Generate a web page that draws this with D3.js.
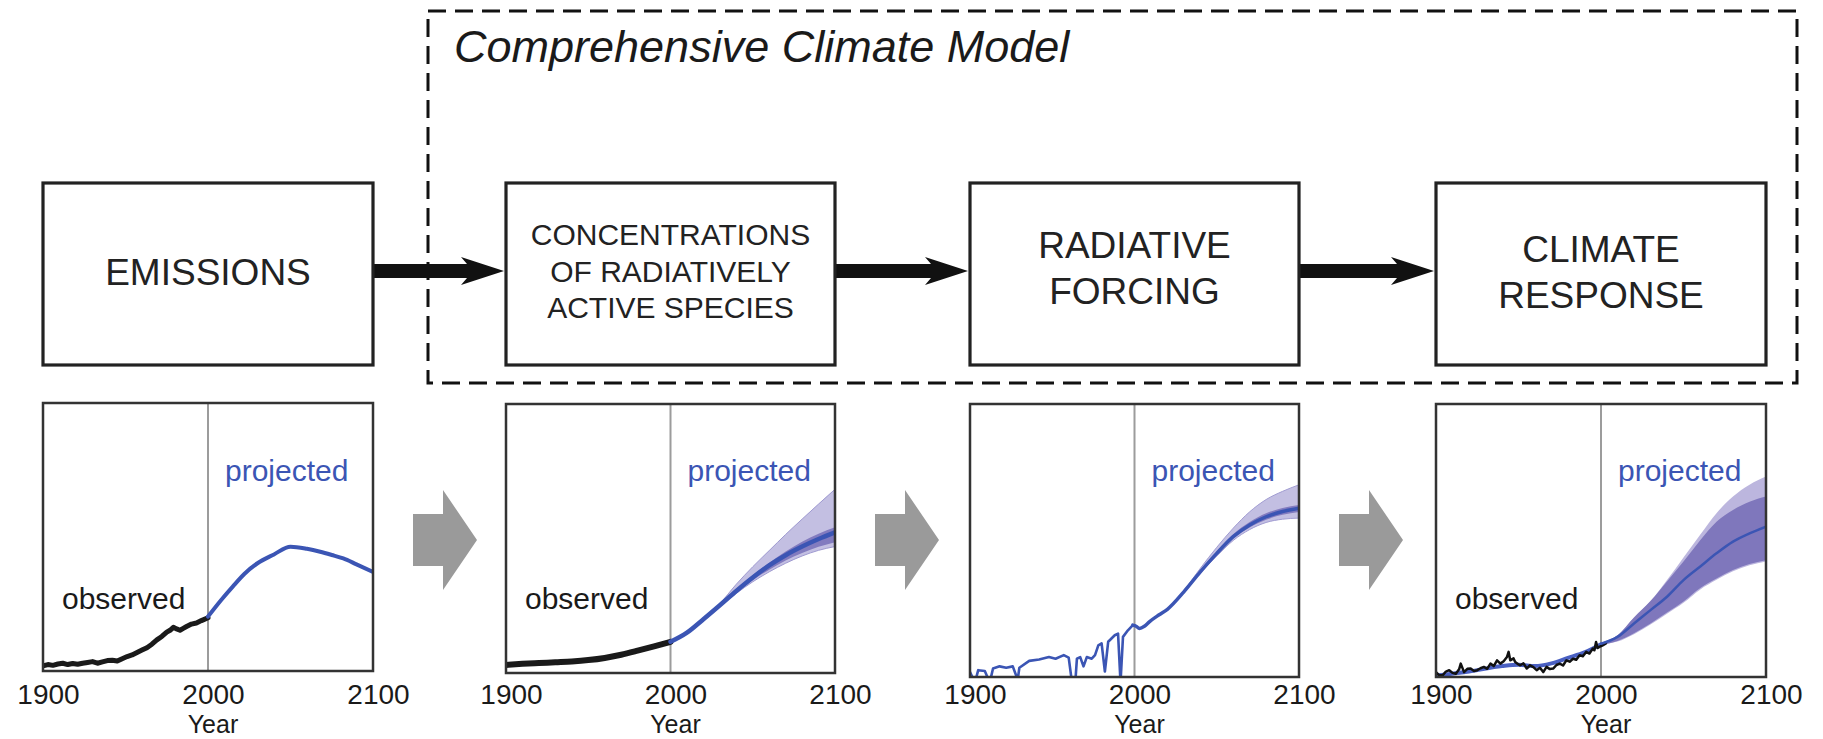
<!DOCTYPE html>
<html>
<head>
<meta charset="utf-8">
<script src="https://cdn.jsdelivr.net/npm/d3@7"></script>
<style>
html,body{margin:0;padding:0;background:#fff;}
svg{display:block;}
</style>
</head>
<body>
<svg id="chart" width="1823" height="739"></svg>
<script>
// ---------------- DATA ----------------
const modelTitle = "Comprehensive Climate Model";
const stageLabels = [
  ["EMISSIONS"],
  ["CONCENTRATIONS", "OF RADIATIVELY", "ACTIVE SPECIES"],
  ["RADIATIVE", "FORCING"],
  ["CLIMATE", "RESPONSE"]
];
const tickYears = [1900, 2000, 2100];
const axisTitle = "Year";
const obsLabel = "observed";
const projLabel = "projected";
// which panels carry the "observed" label
const hasObsLabel = [true, true, false, true];

// Panel 1 : emissions (relative units 0-100)
const emisObserved = [[1900,1.9],[1903,2.4],[1906,2.1],[1909,2.6],[1912,2.9],[1915,2.4],[1918,2.8],[1921,2.5],[1924,2.9],[1927,3.2],[1930,3.5],[1933,2.9],[1936,3.4],[1939,3.9],[1942,4.0],[1945,3.7],[1948,4.6],[1951,5.4],[1954,6.0],[1957,6.9],[1960,7.8],[1963,8.7],[1966,10.0],[1969,11.6],[1972,12.9],[1975,14.5],[1977,15.2],[1979,16.3],[1981,15.7],[1983,15.2],[1985,15.9],[1987,16.6],[1990,17.5],[1993,17.9],[1996,18.8],[2000,19.9]];
const emisProjected = [[2000,20.3],[2008,26.5],[2015,31.5],[2022,36.2],[2030,40.2],[2040,43.5],[2050,46.4],[2060,45.6],[2068,44.5],[2075,43.3],[2082,42.0],[2090,39.8],[2100,37.0]];

// Panel 2 : concentrations
const concObserved = [[1900,3.0],[1910,3.4],[1920,3.7],[1930,4.0],[1940,4.3],[1950,4.8],[1960,5.6],[1970,6.8],[1980,8.3],[1990,9.9],[2000,11.6]];
const concYears   = [2000, 2010, 2020, 2030, 2040, 2050, 2060, 2070, 2080, 2090, 2100];
const concMid     = [11.6, 15.0, 20.0, 25.2, 30.5, 35.5, 40.0, 43.8, 47.0, 49.8, 52.3];
const concDarkLo  = [11.6, 15.0, 20.0, 25.0, 30.0, 34.5, 38.4, 41.8, 44.6, 46.9, 48.6];
const concDarkHi  = [11.6, 15.0, 20.0, 25.4, 31.0, 36.3, 41.0, 45.2, 48.8, 51.8, 54.2];
const concLightLo = [11.6, 15.0, 20.0, 24.8, 29.6, 33.9, 37.6, 40.8, 43.5, 45.6, 47.0];
const concLightHi = [11.6, 15.0, 20.0, 25.8, 33.0, 39.5, 45.5, 51.5, 57.2, 62.8, 68.3];

// Panel 3 : radiative forcing (volcanic dips fall below the axis)
const forcHistorical = [[1900,1.8],[1903,-2],[1905,2.5],[1909,2.2],[1912,-2],[1914,3.1],[1918,3.9],[1922,3.4],[1926,3.9],[1929,-1],[1930,3.4],[1936,5.9],[1942,6.4],[1948,7.3],[1952,6.7],[1957,8.0],[1960,7.1],[1962,-2],[1964,-2],[1965,6.7],[1967,7.3],[1969,3.9],[1971,7.3],[1974,6.7],[1976,8.0],[1978,11.6],[1980,12.3],[1982,2.0],[1984,12.9],[1988,15.3],[1990,15.9],[1991.5,-2],[1993,14.7],[1996,17.1],[1999,19.0]];
const forcProjected = [[1999,19.0],[2001,18.6],[2003,17.8],[2006,18.6],[2009,20.2],[2015,22.8],[2020,24.8],[2030,31.2],[2040,38.5],[2050,45.3],[2060,51.4],[2070,55.7],[2080,58.7],[2090,60.6],[2100,61.8]];
const forcYears   = [2020, 2030, 2040, 2050, 2060, 2070, 2080, 2090, 2100];
const forcDarkLo  = [24.8, 31.0, 38.2, 44.8, 50.7, 54.8, 57.6, 59.4, 60.4];
const forcDarkHi  = [24.8, 31.4, 38.9, 45.9, 52.3, 56.8, 60.0, 61.9, 63.0];
const forcLightLo = [24.8, 31.0, 38.0, 44.3, 50.0, 54.0, 56.6, 57.8, 58.2];
const forcLightHi = [24.8, 31.6, 39.8, 47.5, 54.5, 60.5, 65.0, 68.0, 70.4];

// Panel 4 : climate response (temperature)
const tempObserved = [[1900,1.8],[1902,0.6],[1904,0.6],[1906,2.0],[1908,2.5],[1910,1.5],[1912,1.2],[1914,2.8],[1915,4.9],[1917,1.8],[1919,3.0],[1921,3.1],[1923,2.2],[1925,2.5],[1927,3.2],[1929,3.7],[1931,3.0],[1933,4.9],[1935,4.0],[1937,6.1],[1939,4.9],[1941,5.8],[1943,7.3],[1944,9.2],[1945,6.1],[1947,6.8],[1948,5.5],[1950,4.6],[1951,4.3],[1953,5.0],[1955,3.1],[1957,4.3],[1959,3.6],[1961,2.5],[1963,3.4],[1965,1.8],[1967,3.7],[1969,2.9],[1971,3.1],[1973,4.4],[1975,4.9],[1977,4.2],[1979,6.1],[1981,5.6],[1983,6.7],[1985,6.3],[1987,8.0],[1989,7.6],[1991,9.2],[1993,8.6],[1995,10.4],[1996,9.8],[1997,12.8],[1998,10.6],[1999,11.0],[2001,11.6],[2003,12.3]];
const tempModelHist = [[1900,0.5],[1920,2.0],[1940,4.0],[1950,4.5],[1960,4.0],[1970,5.0],[1980,7.0],[1990,9.0],[2000,12.0]];
const tempYears   = [2000, 2010, 2020, 2030, 2040, 2050, 2060, 2070, 2080, 2090, 2100];
const tempMid     = [12.2, 14.7, 19.6, 24.5, 29.4, 35.5, 40.4, 45.3, 49.6, 52.6, 55.1];
const tempDarkLo  = [11.9, 13.2, 16.0, 19.6, 23.6, 27.7, 32.5, 36.1, 39.2, 41.4, 42.8];
const tempDarkHi  = [12.5, 15.3, 21.8, 27.8, 35.0, 42.3, 50.0, 56.9, 61.2, 64.2, 66.1];
const tempLightLo = [11.9, 13.0, 15.7, 19.2, 23.2, 27.2, 32.0, 35.6, 38.7, 40.9, 42.3];
const tempLightHi = [12.5, 15.3, 21.8, 27.8, 35.5, 43.8, 52.0, 60.0, 66.1, 70.4, 73.4];

// ---------------- LAYOUT / STYLE ----------------
const FONT = "'Liberation Sans', Arial, Helvetica, sans-serif";
const BLUE = "#3b55b4";
const LIGHT = "#c3bfe2";
const DARK = "#827bbf";
const panels = [
  {x0: 43,   x1: 373,  y0: 403, y1: 671},
  {x0: 506,  x1: 835,  y0: 404, y1: 673},
  {x0: 970,  x1: 1299, y0: 404, y1: 677},
  {x0: 1436, x1: 1766, y0: 404, y1: 677}
];
const boxTop = 183, boxBottom = 365;
const stageFont = [37, 30, 37, 37];
const stageBaselines = [[285], [245, 282, 318], [258, 304], [262, 308]];
const tickFont = 28, tickBaseline = 704, titleBaseline = 733;

const svg = d3.select("#chart");
const defs = svg.append("defs");

// dashed "comprehensive climate model" frame
svg.append("rect")
  .attr("x", 428).attr("y", 11).attr("width", 1797 - 428).attr("height", 383 - 11)
  .attr("fill", "none").attr("stroke", "#111").attr("stroke-width", 3)
  .attr("stroke-dasharray", "18,9");
svg.append("text")
  .attr("x", 454).attr("y", 62)
  .attr("font-family", FONT).attr("font-style", "italic").attr("font-size", 45)
  .attr("fill", "#1a1a1a").text(modelTitle);

// black arrows between stage boxes
for (let i = 0; i < 3; i++) {
  const xs = panels[i].x1, tip = panels[i + 1].x0 - 2, xh = tip - 43, yc = 271;
  const pts = [[xs, yc - 7], [xh + 6, yc - 7], [xh, yc - 14], [tip, yc], [xh, yc + 14], [xh + 6, yc + 7], [xs, yc + 7]];
  svg.append("path").attr("d", d3.line()(pts) + "Z").attr("fill", "#111");
}

// stage boxes
stageLabels.forEach((lines, i) => {
  const p = panels[i];
  svg.append("rect")
    .attr("x", p.x0).attr("y", boxTop).attr("width", p.x1 - p.x0).attr("height", boxBottom - boxTop)
    .attr("fill", "#fff").attr("stroke", "#222").attr("stroke-width", 3.2);
  lines.forEach((t, j) => {
    svg.append("text")
      .attr("x", (p.x0 + p.x1) / 2).attr("y", stageBaselines[i][j])
      .attr("text-anchor", "middle").attr("font-family", FONT)
      .attr("font-size", stageFont[i]).attr("fill", "#222").text(t);
  });
});

// gray block arrows between panels
for (let i = 0; i < 3; i++) {
  const x0 = panels[i].x1 + 40, yc = 540;
  const pts = [[x0, yc - 26], [x0 + 30, yc - 26], [x0 + 30, yc - 50], [x0 + 64, yc], [x0 + 30, yc + 50], [x0 + 30, yc + 26], [x0, yc + 26]];
  svg.append("path").attr("d", d3.line()(pts) + "Z").attr("fill", "#9a9a9a");
}

// ---------------- PANELS ----------------
function makePanel(i) {
  const p = panels[i];
  const x = d3.scaleLinear().domain([1900, 2100]).range([p.x0, p.x1]);
  const y = d3.scaleLinear().domain([0, 100]).range([p.y1, p.y0]);
  const clipId = "clip" + i;
  defs.append("clipPath").attr("id", clipId).append("rect")
    .attr("x", p.x0).attr("y", p.y0).attr("width", p.x1 - p.x0).attr("height", p.y1 - p.y0);
  const g = svg.append("g");
  g.append("rect").attr("x", p.x0).attr("y", p.y0).attr("width", p.x1 - p.x0).attr("height", p.y1 - p.y0).attr("fill", "#fff");
  g.append("line").attr("x1", x(2000)).attr("x2", x(2000)).attr("y1", p.y0).attr("y2", p.y1)
    .attr("stroke", "#9c9c9c").attr("stroke-width", 2);
  const plot = g.append("g").attr("clip-path", `url(#${clipId})`);
  return {p, x, y, g, plot};
}

function drawLine(P, data, color, width, curve) {
  P.plot.append("path")
    .attr("d", d3.line().x(d => P.x(d[0])).y(d => P.y(d[1])).curve(curve || d3.curveLinear)(data))
    .attr("fill", "none").attr("stroke", color).attr("stroke-width", width)
    .attr("stroke-linejoin", "round").attr("stroke-linecap", "round");
}
function drawBand(P, years, lo, hi, fill, edge) {
  const data = years.map((yr, k) => [yr, lo[k], hi[k]]);
  P.plot.append("path")
    .attr("d", d3.area().x(d => P.x(d[0])).y0(d => P.y(d[1])).y1(d => P.y(d[2])).curve(d3.curveMonotoneX)(data))
    .attr("fill", fill).attr("stroke", edge || "none").attr("stroke-width", 1);
}
function zip(years, vals) { return years.map((yr, k) => [yr, vals[k]]); }

function finishPanel(P, i) {
  const p = P.p;
  P.g.append("rect").attr("x", p.x0).attr("y", p.y0).attr("width", p.x1 - p.x0).attr("height", p.y1 - p.y0)
    .attr("fill", "none").attr("stroke", "#333").attr("stroke-width", 2.5);
  const pad = tickBaseline - p.y1 - 0.71 * tickFont;
  const ax = P.g.append("g").attr("transform", `translate(0,${p.y1})`)
    .call(d3.axisBottom(P.x).tickValues(tickYears).tickFormat(d3.format("d")).tickSize(0).tickPadding(pad));
  ax.select(".domain").remove();
  ax.selectAll("text").attr("font-family", FONT).attr("font-size", tickFont).attr("fill", "#1a1a1a").attr("dx", 5);
  P.g.append("text").attr("x", P.x(2000) + 5).attr("y", titleBaseline).attr("text-anchor", "middle")
    .attr("font-family", FONT).attr("font-size", 25).attr("fill", "#1a1a1a").text(axisTitle);
  P.g.append("text").attr("x", P.x(2000) + 17).attr("y", 481)
    .attr("font-family", FONT).attr("font-size", 30).attr("fill", BLUE).text(projLabel);
  if (hasObsLabel[i]) {
    P.g.append("text").attr("x", p.x0 + 19).attr("y", 609)
      .attr("font-family", FONT).attr("font-size", 30).attr("fill", "#1a1a1a").text(obsLabel);
  }
}

// Panel 1
{
  const P = makePanel(0);
  drawLine(P, emisObserved, "#1a1a1a", 5);
  drawLine(P, emisProjected, BLUE, 4, d3.curveMonotoneX);
  finishPanel(P, 0);
}
// Panel 2
{
  const P = makePanel(1);
  drawBand(P, concYears, concLightLo, concLightHi, LIGHT, "#9e99d0");
  drawBand(P, concYears, concDarkLo, concDarkHi, DARK);
  drawLine(P, concObserved, "#1a1a1a", 6, d3.curveMonotoneX);
  drawLine(P, zip(concYears, concMid), BLUE, 4.5, d3.curveMonotoneX);
  finishPanel(P, 1);
}
// Panel 3
{
  const P = makePanel(2);
  drawBand(P, forcYears, forcLightLo, forcLightHi, LIGHT, "#a29dd2");
  drawBand(P, forcYears, forcDarkLo, forcDarkHi, DARK);
  drawLine(P, forcHistorical, BLUE, 2.6);
  drawLine(P, forcProjected, BLUE, 3.5, d3.curveMonotoneX);
  finishPanel(P, 2);
}
// Panel 4
{
  const P = makePanel(3);
  drawBand(P, tempYears, tempLightLo, tempLightHi, "#bcb6de");
  drawBand(P, tempYears, tempDarkLo, tempDarkHi, "#7f77bc");
  drawLine(P, tempModelHist, "#4a60c2", 4, d3.curveMonotoneX);
  drawLine(P, tempObserved, "#111", 2.5);
  drawLine(P, zip(tempYears, tempMid), BLUE, 2.5, d3.curveMonotoneX);
  finishPanel(P, 3);
}
</script>
</body>
</html>
